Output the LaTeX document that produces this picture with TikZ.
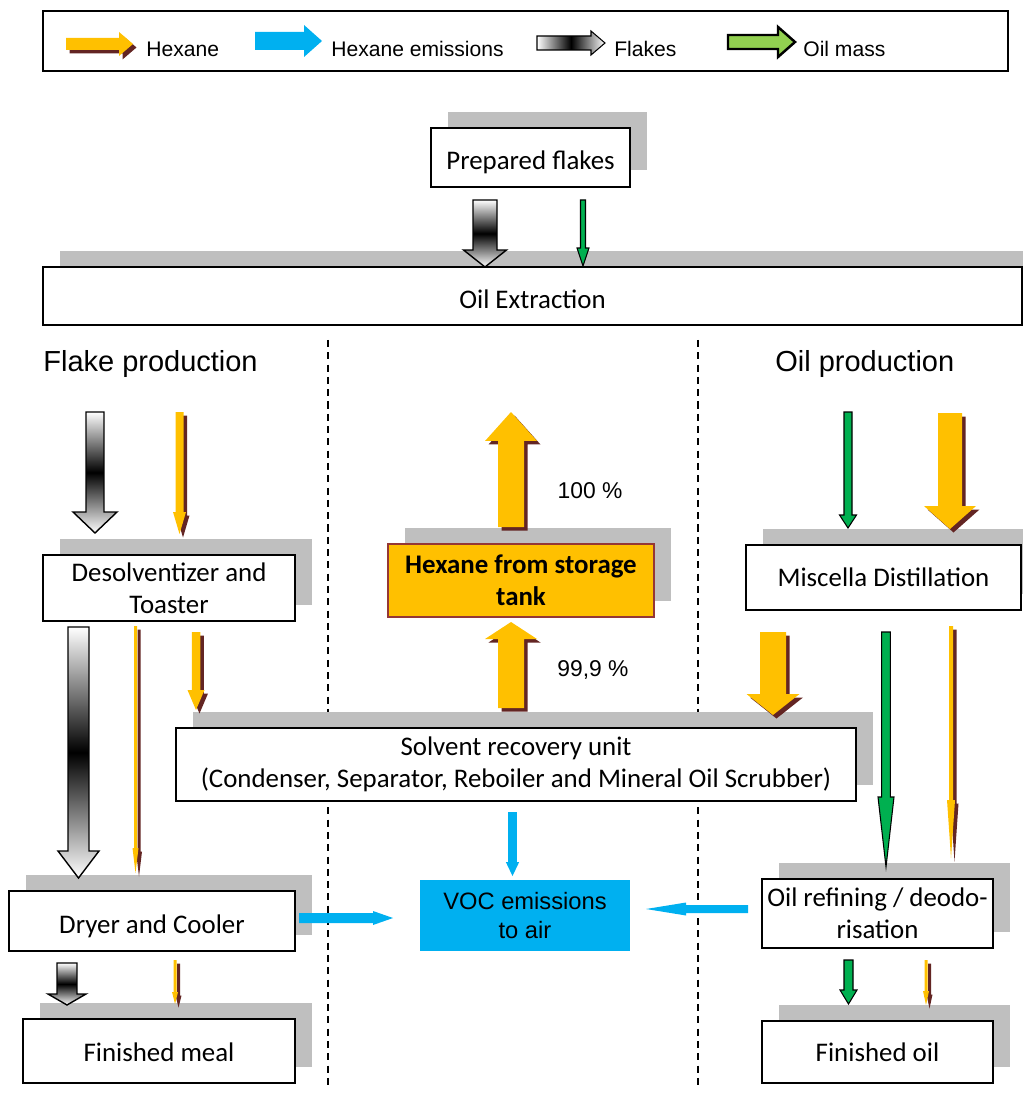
\documentclass[tikz,border=0pt]{standalone}
\usepackage{fontspec}
\setmainfont{Carlito}
\newfontfamily\arialfont{Liberation Sans}
\usetikzlibrary{calc,shadows}

\definecolor{hexyellow}{HTML}{FFC000}
\definecolor{hexbrown}{HTML}{632523}
\definecolor{hexframe}{HTML}{953735}
\definecolor{emisblue}{HTML}{00B0F0}
\definecolor{oilgreen}{HTML}{00B050}
\definecolor{keygreen}{HTML}{92D050}
\definecolor{shadegray}{HTML}{BFBFBF}

% block arrow: style, from, to, half shaft, half head, head length
\newcommand\flowarrow[6]{%
  \coordinate (neck) at ($(#3)!#6!(#2)$);
  \path[#1] ($(#2)!#4!90:(#3)$) -- ($(neck)!#4!90:(#3)$)
    -- ($(neck)!#5!90:(#3)$) -- (#3) -- ($(neck)!#5!-90:(#3)$)
    -- ($(neck)!#4!-90:(#3)$) -- ($(#2)!#4!-90:(#3)$) -- cycle;}

\tikzset{
  box/.style={draw, line width=1.1pt, fill=white, align=center, inner sep=0pt,
    font=\fontsize{15.3}{18}\selectfont},
  lowtext/.style={text height=#1, text depth=0pt},
  boxshade/.style={drop shadow={shadow xshift=0.34cm, shadow yshift=0.33cm,
    fill=shadegray, opacity=1}},
  hexane/.style={fill=hexyellow, drop shadow={shadow xshift=0.07cm,
    shadow yshift=-0.07cm, fill=hexbrown, opacity=1}},
  emission/.style={fill=emisblue},
  flakes/.style={draw, line width=0.8pt, top color=white, bottom color=white,
    middle color=black},
  oilmass/.style={draw, line width=0.6pt, fill=oilgreen},
  divider/.style={line width=0.9pt, dash pattern=on 4pt off 3pt},
  heading/.style={font=\arialfont\fontsize{16.5}{20}\selectfont,
    anchor=base west, inner sep=0pt},
  keytext/.style={font=\arialfont\fontsize{12}{14}\selectfont,
    anchor=base west, inner sep=0pt},
  share/.style={font=\arialfont\fontsize{13}{15}\selectfont,
    anchor=base, inner sep=0pt}
}

\begin{document}
\begin{tikzpicture}[x=0.02cm, y=-0.02cm]
\useasboundingbox (0,0) rectangle (1023,1094);

% dashed separators
\draw[divider] (328,340) -- (328,1090);
\draw[divider] (698,340) -- (698,1090);

% legend
\node[draw, line width=1.1pt, minimum width=19.3cm, minimum height=1.2cm]
  (legend) at (525.5,41) {};
\coordinate (k1a) at (66,44);   \coordinate (k1b) at (133,44);
\coordinate (k2a) at (255,41);  \coordinate (k2b) at (322,41);
\coordinate (k3a) at (537,43);  \coordinate (k3b) at (605,43);
\coordinate (k4a) at (728,42);  \coordinate (k4b) at (795,42);
\flowarrow{hexane}{k1a}{k1b}{0.12cm}{0.24cm}{0.28cm}
\flowarrow{emission}{k2a}{k2b}{0.18cm}{0.32cm}{0.36cm}
\flowarrow{draw, line width=0.6pt, left color=white, right color=white,
  middle color=black}{k3a}{k3b}{0.14cm}{0.24cm}{0.28cm}
\flowarrow{draw, line width=1.4pt, fill=keygreen}{k4a}{k4b}{0.14cm}{0.3cm}{0.34cm}
\node[keytext] (khex) at (146,56.5) {Hexane};
\node[keytext] (kemis) at (331,56.5) {Hexane emissions};
\node[keytext] (kflake) at (614,56.5) {Flakes};
\node[keytext] (koil) at (803,56.5) {Oil mass};

% process boxes
\node[box, boxshade, lowtext=14.2pt, minimum width=3.98cm, minimum height=1.18cm]
  (prep) at (530.5,157.5) {Prepared flakes};
\node[box, boxshade, lowtext=13.9pt, minimum width=19.58cm, minimum height=1.16cm]
  (extract) at (532.5,296) {Oil Extraction};
\node[box, boxshade, minimum width=5.04cm, minimum height=1.32cm]
  (desolv) at (169,588) {Desolventizer and\\Toaster};
\node[box, boxshade, minimum width=13.6cm, minimum height=1.46cm]
  (solvent) at (516,764.5) {Solvent recovery unit\\(Condenser, Separator,
  Reboiler and Mineral Oil Scrubber)};
\node[box, boxshade, draw=hexframe, line width=0.8pt, fill=hexyellow,
  minimum width=5.32cm, minimum height=1.46cm, font=\bfseries\fontsize{15.3}{18}\selectfont]
  (storage) at (521,580.5) {Hexane from storage\\tank};
\node[box, boxshade, minimum width=5.5cm, minimum height=1.3cm]
  (miscella) at (883.5,577.5) {Miscella Distillation};
\node[box, boxshade, lowtext=14.7pt, minimum width=5.72cm, minimum height=1.2cm]
  (dryer) at (152,921) {Dryer and Cooler};
\node[box, boxshade, lowtext=12.1pt, minimum width=5.44cm, minimum height=1.28cm]
  (meal) at (159,1051) {Finished meal};
\node[box, boxshade, minimum width=4.62cm, minimum height=1.38cm]
  (refine) at (877.5,913.5) {Oil refining / deodo-\\risation};
\node[box, boxshade, lowtext=11pt, minimum width=4.62cm, minimum height=1.24cm]
  (oil) at (877.5,1052) {Finished oil};
\node[fill=emisblue, align=center, minimum width=4.2cm, minimum height=1.42cm,
  font=\arialfont\fontsize{13.5}{16}\selectfont]
  (voc) at (525,915.5) {VOC emissions\\to air};

% headings and shares
\node[heading] (flakehead) at (43,372) {Flake production};
\node[heading] (oilhead) at (775,372) {Oil production};
\node[share] (full) at (590,498) {100 \%};
\node[share] (part) at (593,676) {99,9 \%};

% arrow end points
\coordinate (f1a) at (485,200);   \coordinate (f1b) at (485,267);
\coordinate (g1a) at (583,200);   \coordinate (g1b) at (583,266);
\coordinate (f2a) at (95,412);    \coordinate (f2b) at (95,533);
\coordinate (h2a) at (179.5,412); \coordinate (h2b) at (179.5,534);
\coordinate (f3a) at (78.5,627);  \coordinate (f3b) at (78.5,878);
\coordinate (h3a) at (135.5,626); \coordinate (h3b) at (135.5,873);
\coordinate (h4a) at (196,632);   \coordinate (h4b) at (196,710);
\coordinate (f4a) at (67,963);    \coordinate (f4b) at (67,1005);
\coordinate (h5a) at (175,960);   \coordinate (h5b) at (175,1004);
\coordinate (h6a) at (511,527);   \coordinate (h6b) at (511,412);
\coordinate (h7a) at (511,708);   \coordinate (h7b) at (511,622);
\coordinate (e1a) at (512.5,812); \coordinate (e1b) at (512.5,876);
\coordinate (e2a) at (299,918);   \coordinate (e2b) at (393,918);
\coordinate (e3a) at (748,909);   \coordinate (e3b) at (646,909);
\coordinate (g2a) at (848,412);   \coordinate (g2b) at (848,528);
\coordinate (h8a) at (950,413);   \coordinate (h8b) at (950,529);
\coordinate (h9a) at (773,632);   \coordinate (h9b) at (773,715);
\coordinate (g3a) at (886,632);   \coordinate (g3b) at (886,867);
\coordinate (h10a) at (951,626);  \coordinate (h10b) at (951,858);
\coordinate (g4a) at (848.5,960); \coordinate (g4b) at (848.5,1004);
\coordinate (h11a) at (926,960);  \coordinate (h11b) at (926,1005);

% flakes
\flowarrow{flakes}{f1a}{f1b}{0.24cm}{0.43cm}{0.34cm}
\flowarrow{flakes}{f2a}{f2b}{0.18cm}{0.44cm}{0.42cm}
\flowarrow{flakes}{f3a}{f3b}{0.21cm}{0.41cm}{0.54cm}
\flowarrow{flakes}{f4a}{f4b}{0.2cm}{0.38cm}{0.22cm}

% oil mass
\flowarrow{oilmass}{g1a}{g1b}{0.05cm}{0.12cm}{0.36cm}
\flowarrow{oilmass}{g2a}{g2b}{0.08cm}{0.17cm}{0.26cm}
\flowarrow{oilmass}{g3a}{g3b}{0.086cm}{0.16cm}{1.4cm}
\flowarrow{oilmass}{g4a}{g4b}{0.09cm}{0.17cm}{0.28cm}

% hexane
\flowarrow{hexane}{h2a}{h2b}{0.08cm}{0.13cm}{0.44cm}
\flowarrow{hexane}{h3a}{h3b}{0.03cm}{0.06cm}{0.5cm}
\flowarrow{hexane}{h4a}{h4b}{0.085cm}{0.17cm}{0.4cm}
\flowarrow{hexane}{h5a}{h5b}{0.03cm}{0.06cm}{0.24cm}
\flowarrow{hexane}{h6a}{h6b}{0.26cm}{0.52cm}{0.58cm}
\flowarrow{hexane}{h7a}{h7b}{0.26cm}{0.52cm}{0.34cm}
\flowarrow{hexane}{h8a}{h8b}{0.24cm}{0.52cm}{0.46cm}
\flowarrow{hexane}{h9a}{h9b}{0.26cm}{0.53cm}{0.42cm}
\flowarrow{hexane}{h10a}{h10b}{0.04cm}{0.08cm}{1.16cm}
\flowarrow{hexane}{h11a}{h11b}{0.03cm}{0.06cm}{0.28cm}

% emissions
\flowarrow{emission}{e1a}{e1b}{0.087cm}{0.134cm}{0.28cm}
\flowarrow{emission}{e2a}{e2b}{0.1cm}{0.14cm}{0.4cm}
\flowarrow{emission}{e3a}{e3b}{0.08cm}{0.13cm}{0.8cm}
\end{tikzpicture}
\end{document}
